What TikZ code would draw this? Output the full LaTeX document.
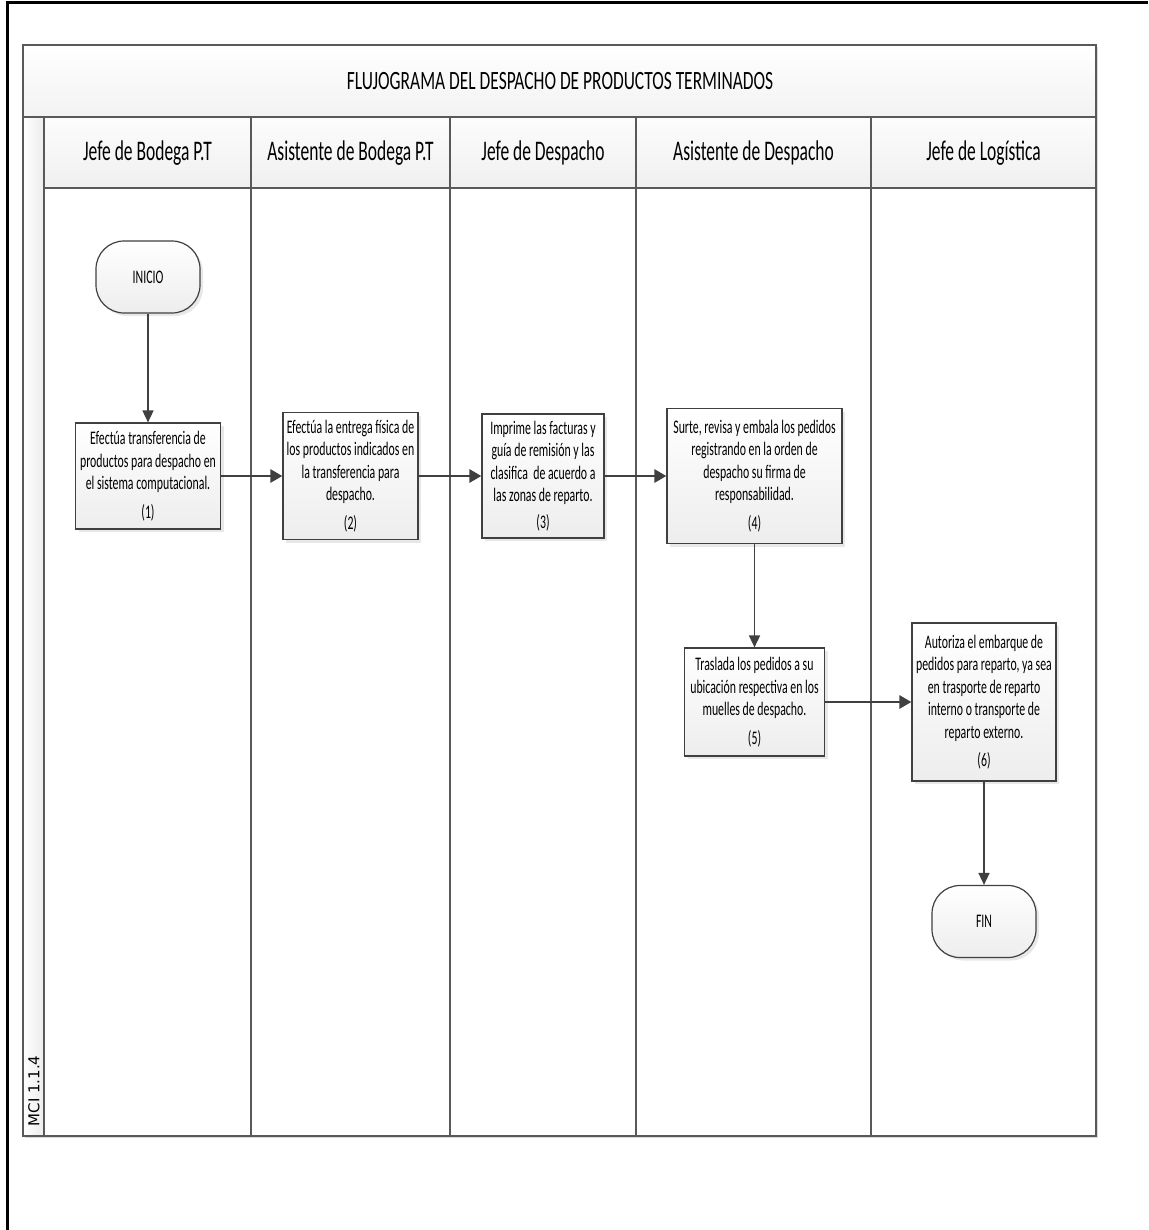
\documentclass[tikz,border=0pt]{standalone}
\usepackage{fontspec}
\setmainfont{Carlito}[FakeStretch=0.66]
\newfontfamily\cajafont{Carlito}[FakeStretch=0.615]
\newfontfamily\mcifont{DejaVu Sans}
\usetikzlibrary{arrows.meta,shadows}

\begin{document}
\begin{tikzpicture}[x=0.5pt,y=-0.5pt,
  lane/.style={draw=black!65,line width=0.75pt},
  head/.style={font=\cajafont\fontsize{14.2}{17}\selectfont},
  box/.style={draw=black!75,line width=0.6pt,top color=white,bottom color=gray!14,
    drop shadow={shadow xshift=1.5pt,shadow yshift=-1.5pt,opacity=0.18},
    align=center,inner sep=0pt,font=\cajafont\fontsize{9.6}{11.25}\selectfont},
  term/.style={box,rounded corners=14pt,minimum width=52pt,minimum height=36pt},
  flow/.style={draw=black!75,line width=1.35pt,-{Triangle[length=6pt,width=6.5pt]}},
  flowv/.style={draw=black!75,line width=0.8pt,-{Triangle[length=6pt,width=5.5pt]}}]
\useasboundingbox (0,0) rectangle (1148,1230);
\path[draw,line width=1.5pt] (7,1230) -- (7,3) -- (1148,3);
\path[fill=white,drop shadow={shadow xshift=1pt,shadow yshift=-1pt,opacity=0.3}] (23,45) rectangle (1096,1136);
\path[top color=white,bottom color=gray!10] (23,45) rectangle (1096,117);
\path[top color=gray!2,bottom color=gray!12] (44,117) rectangle (1096,188);
\path[left color=white,right color=gray!15] (23,117) rectangle (44,1136);
\path[lane] (23,45) rectangle (1096,1136);
\path[lane] (23,117) -- (1096,117);
\path[lane] (44,188) -- (1096,188);
\path[lane] (44,117) -- (44,1136);
\path[lane] (251,117) -- (251,1136);
\path[lane] (450,117) -- (450,1136);
\path[lane] (636,117) -- (636,1136);
\path[lane] (871,117) -- (871,1136);
\node[font=\fontsize{13.2}{16}\selectfont] (titulo) at (560,81) {FLUJOGRAMA DEL DESPACHO DE PRODUCTOS TERMINADOS};
\node[head] (h1) at (147.5,153) {Jefe de Bodega P.T};
\node[head] (h2) at (350.5,153) {Asistente de Bodega P.T};
\node[head] (h3) at (543,153) {Jefe de Despacho};
\node[head] (h4) at (753.5,153) {Asistente de Despacho};
\node[head] (h5) at (983.5,153) {Jefe de Logística};
\node[rotate=90,font=\mcifont\fontsize{7.5}{9}\selectfont] (mci) at (34,1091) {MCI 1.1.4};
\node[term] (inicio) at (148,277) {INICIO};
\node[box,minimum width=72.5pt,minimum height=53pt] (1) at (148,476) {Efectúa transferencia de\\productos para despacho en\\el sistema computacional.\\[3pt](1)};
\node[box,minimum width=67.5pt,minimum height=63.5pt] (2) at (350.5,476) {Efectúa la entrega física de\\los productos indicados en\\la transferencia para\\despacho.\\[3pt](2)};
\node[box,minimum width=61pt,minimum height=62pt] (3) at (543,476) {Imprime las facturas y\\guía de remisión y las\\clasifica\ \ de acuerdo a\\las zonas de reparto.\\[2pt](3)};
\node[box,minimum width=87.5pt,minimum height=67.5pt] (4) at (754.5,476) {Surte, revisa y embala los pedidos\\registrando en la orden de\\despacho su firma de\\responsabilidad.\\[3pt](4)};
\node[box,minimum width=70pt,minimum height=54pt] (5) at (754.5,702) {Traslada los pedidos a su\\ubicación respectiva en los\\muelles de despacho.\\[3pt](5)};
\node[box,minimum width=72pt,minimum height=79pt] (6) at (984,702) {Autoriza el embarque de\\pedidos para reparto, ya sea\\en trasporte de reparto\\interno o transporte de\\reparto externo.\\[3pt](6)};
\node[term] (fin) at (984,921.5) {FIN};
\path[flowv] (inicio) -- (1);
\path[flow] (1) -- (2);
\path[flow] (2) -- (3);
\path[flow] (3) -- (4);
\path[flowv] (4) -- (5);
\path[flow] (5) -- (6);
\path[flowv] (6) -- (fin);
\end{tikzpicture}
\end{document}
